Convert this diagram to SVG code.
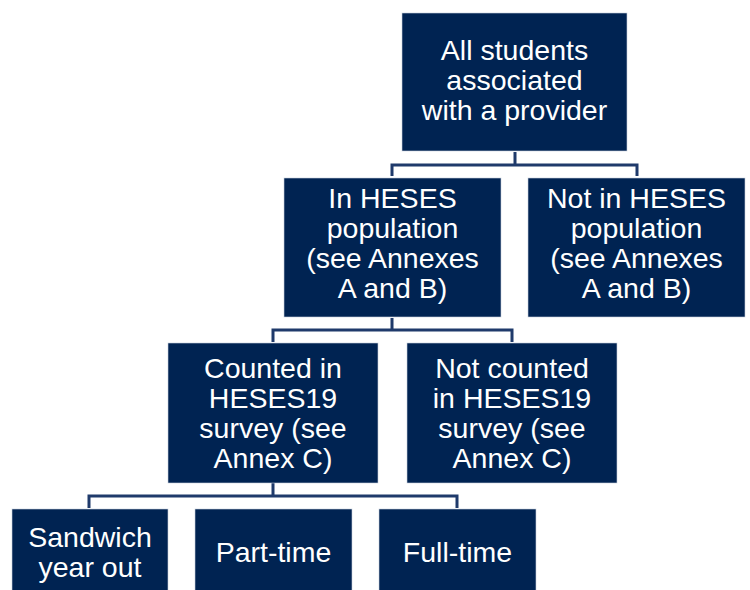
<svg xmlns="http://www.w3.org/2000/svg" width="750" height="590" viewBox="0 0 750 590">
<style>
.box{fill:#002352;stroke:#c8d0dc;stroke-width:0.6}
.t{fill:#fff;font-family:"Liberation Sans",Arial,sans-serif;font-size:28.5px;text-anchor:middle}
.c{fill:none;stroke:#1f3a6b;stroke-width:3}
</style>
<rect width="750" height="590" fill="#fff"/>
<g id="connectors">
<path class="c" d="M515 152V165M392 176V165H637V176"/>
<path class="c" d="M392 318V330M273 342V330H512V342"/>
<path class="c" d="M273 483V496M89 508V496H457V508"/>
</g>
<g id="n1"><rect class="box" x="402" y="13" width="225" height="138"/>
<text class="t" x="514.5" y="60">All students</text><text class="t" x="514.5" y="90">associated</text><text class="t" x="514.5" y="120">with a provider</text></g>
<g id="n2"><rect class="box" x="284" y="178" width="217" height="139"/>
<text class="t" x="392.5" y="208">In HESES</text><text class="t" x="392.5" y="238">population</text><text class="t" x="392.5" y="268">(see Annexes</text><text class="t" x="392.5" y="298">A and B)</text></g>
<g id="n3"><rect class="box" x="528" y="178" width="217" height="139"/>
<text class="t" x="636.5" y="208">Not in HESES</text><text class="t" x="636.5" y="238">population</text><text class="t" x="636.5" y="268">(see Annexes</text><text class="t" x="636.5" y="298">A and B)</text></g>
<g id="n4"><rect class="box" x="168" y="343" width="210" height="140"/>
<text class="t" x="273" y="378">Counted in</text><text class="t" x="273" y="408">HESES19</text><text class="t" x="273" y="438">survey (see</text><text class="t" x="273" y="468">Annex C)</text></g>
<g id="n5"><rect class="box" x="407" y="343" width="210" height="140"/>
<text class="t" x="512" y="378">Not counted</text><text class="t" x="512" y="408">in HESES19</text><text class="t" x="512" y="438">survey (see</text><text class="t" x="512" y="468">Annex C)</text></g>
<g id="n6"><rect class="box" x="12" y="509" width="156" height="85"/>
<text class="t" x="90" y="547">Sandwich</text><text class="t" x="90" y="577">year out</text></g>
<g id="n7"><rect class="box" x="195" y="509" width="157" height="85"/>
<text class="t" x="273.5" y="562">Part-time</text></g>
<g id="n8"><rect class="box" x="379" y="509" width="157" height="85"/>
<text class="t" x="457.5" y="562">Full-time</text></g>
</svg>
